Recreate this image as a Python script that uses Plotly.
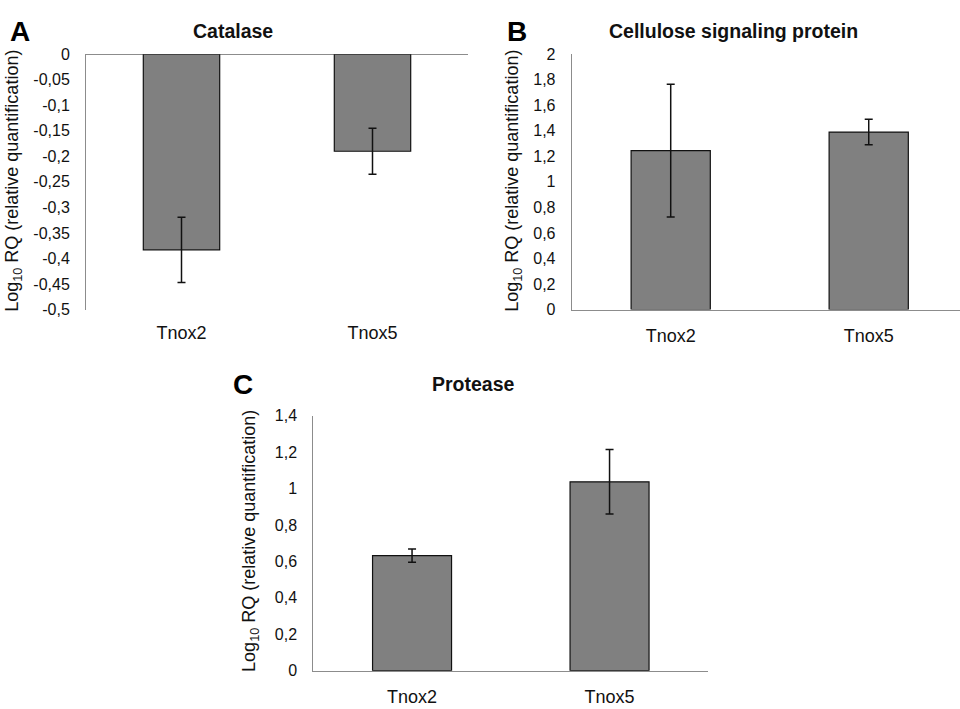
import plotly.graph_objects as go

# ---- data ----
categories = ["Tnox2", "Tnox5"]

catalase = [-0.383, -0.190]
catalase_err = [0.064, 0.045]

cellulose = [1.245, 1.390]
cellulose_err = [0.52, 0.10]

protease = [0.632, 1.037]
protease_err = [0.036, 0.177]

catalase_tickvals = [0, -0.05, -0.1, -0.15, -0.2, -0.25, -0.3, -0.35, -0.4, -0.45, -0.5]
catalase_ticktext = ["0", "-0,05", "-0,1", "-0,15", "-0,2", "-0,25", "-0,3", "-0,35", "-0,4", "-0,45", "-0,5"]

cellulose_tickvals = [0, 0.2, 0.4, 0.6, 0.8, 1.0, 1.2, 1.4, 1.6, 1.8, 2.0]
cellulose_ticktext = ["0", "0,2", "0,4", "0,6", "0,8", "1", "1,2", "1,4", "1,6", "1,8", "2"]

protease_tickvals = [0, 0.2, 0.4, 0.6, 0.8, 1.0, 1.2, 1.4]
protease_ticktext = ["0", "0,2", "0,4", "0,6", "0,8", "1", "1,2", "1,4"]

panel_titles = ["Catalase", "Cellulose signaling protein", "Protease"]
panel_letters = ["A", "B", "C"]
ytitle = "Log<sub>10</sub> RQ (relative quantification)"

# ---- style ----
FONT = "Liberation Sans, Arial, sans-serif"
TXT = "#111111"
AXC = "#8c8c8c"
BAR = "#808080"

W, H = 960, 709

def px_x(x):
    return x / W

def px_y(y):
    return 1 - y / H

fig = go.Figure()

def add_bar(vals, errs, xa, ya):
    fig.add_trace(go.Bar(
        x=categories, y=vals, width=0.4,
        marker=dict(color=BAR, line=dict(color="#111111", width=1.2)),
        error_y=dict(type="data", array=errs, visible=True, color="#111111",
                     thickness=1.5, width=4),
        xaxis=xa, yaxis=ya, showlegend=False,
    ))

add_bar(catalase, catalase_err, "x", "y")
add_bar(cellulose, cellulose_err, "x2", "y2")
add_bar(protease, protease_err, "x3", "y3")

tickfont = dict(family=FONT, size=16, color=TXT)
xtickfont = dict(family=FONT, size=18, color=TXT)

def xaxis(domain, anchor, showline, rng=None):
    d = dict(domain=domain, anchor=anchor, showgrid=False, zeroline=False,
             showline=showline, linecolor=AXC, linewidth=1, ticks="",
             tickfont=xtickfont, ticklabelstandoff=10, fixedrange=True,
             type="category")
    if rng is not None:
        d["range"] = rng
    return d

def yaxis(domain, anchor, rng, tv, tt, zeroline=False):
    return dict(domain=domain, anchor=anchor, range=rng, showgrid=False,
                zeroline=zeroline, zerolinecolor=AXC, zerolinewidth=1,
                showline=True, linecolor=AXC, linewidth=1, ticks="",
                tickvals=tv, ticktext=tt, tickfont=tickfont,
                ticklabelstandoff=12, fixedrange=True)

fig.update_layout(
    width=W, height=H,
    margin=dict(l=0, r=0, t=0, b=0),
    paper_bgcolor="white", plot_bgcolor="white",
    font=dict(family=FONT, color=TXT),
    bargap=0.6,
    xaxis=xaxis([px_x(86), px_x(468)], "y", False),
    yaxis=yaxis([px_y(309), px_y(47.3)], "x", [-0.5, 0], catalase_tickvals, catalase_ticktext, zeroline=True),
    xaxis2=xaxis([px_x(571.7), 1.0], "y2", True, rng=[-0.5, 1.461]),
    yaxis2=yaxis([px_y(309), px_y(47.3)], "x2", [0, 2], cellulose_tickvals, cellulose_ticktext),
    xaxis3=xaxis([px_x(313.3), px_x(708.3)], "y3", True),
    yaxis3=yaxis([px_y(679), px_y(417.7)], "x3", [0, 1.4], protease_tickvals, protease_ticktext),
)

# titles
title_pos = [(233, 24), (733, 24), (473, 385)]
letter_pos = [(20, 24), (517, 24), (243, 386)]
ytitle_pos = [(14, 177), (514, 177), (251, 546)]

for i in range(3):
    tx, ty = title_pos[i]
    fig.add_annotation(x=px_x(tx), y=px_y(ty), xref="paper", yref="paper",
                       text="<b>%s</b>" % panel_titles[i], showarrow=False,
                       xanchor="center", yanchor="middle",
                       font=dict(family=FONT, size=19.5, color=TXT))
    lx, ly = letter_pos[i]
    fig.add_annotation(x=px_x(lx), y=px_y(ly), xref="paper", yref="paper",
                       text="<b>%s</b>" % panel_letters[i], showarrow=False,
                       xanchor="center", yanchor="middle",
                       font=dict(family=FONT, size=28, color="#000000"))
    yx, yy = ytitle_pos[i]
    fig.add_annotation(x=px_x(yx), y=px_y(yy), xref="paper", yref="paper",
                       text=ytitle, showarrow=False, textangle=-90,
                       xanchor="center", yanchor="middle",
                       font=dict(family=FONT, size=18, color=TXT))

fig.write_html("out.html", config={"displayModeBar": False},
               post_script="document.body.style.margin='0';document.body.style.overflow='hidden';")
